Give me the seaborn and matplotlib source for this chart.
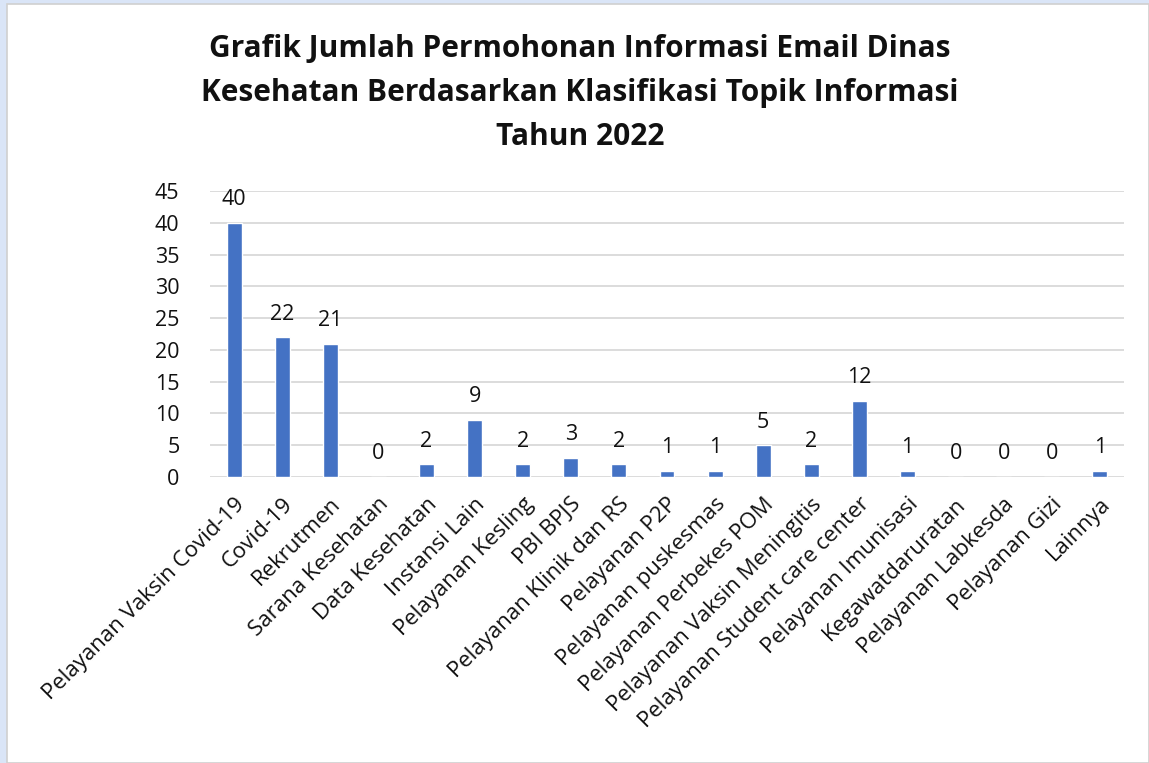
import matplotlib.pyplot as plt
import matplotlib.patches as patches
import seaborn as sns
import pandas as pd

# data
kategori = ['Pelayanan Vaksin Covid-19', 'Covid-19', 'Rekrutmen', 'Sarana Kesehatan',
            'Data Kesehatan', 'Instansi Lain', 'Pelayanan Kesling', 'PBI BPJS',
            'Pelayanan Klinik dan RS', 'Pelayanan P2P', 'Pelayanan puskesmas',
            'Pelayanan Perbekes POM', 'Pelayanan Vaksin Meningitis',
            'Pelayanan Student care center', 'Pelayanan Imunisasi', 'Kegawatdaruratan',
            'Pelayanan Labkesda', 'Pelayanan Gizi', 'Lainnya']
jumlah = [40, 22, 21, 0, 2, 9, 2, 3, 2, 1, 1, 5, 2, 12, 1, 0, 0, 0, 1]
yticks = [0, 5, 10, 15, 20, 25, 30, 35, 40, 45]
judul = ('Grafik Jumlah Permohonan Informasi Email Dinas\n'
         'Kesehatan Berdasarkan Klasifikasi Topik Informasi\n'
         'Tahun 2022')

df = pd.DataFrame({'Kategori': kategori, 'Jumlah': jumlah})

sns.set_style('white')
plt.rcParams['font.family'] = ['Open Sans', 'DejaVu Sans']

fig = plt.figure(figsize=(11.49, 7.63), dpi=100)
fig.patch.set_facecolor('#dae5f7')
# panel putih di belakang grafik
panel = patches.Rectangle((7 / 1149, 0), 1 - 7 / 1149, 1 - 4 / 763,
                          transform=fig.transFigure, facecolor='white',
                          edgecolor='#d0d0d0', linewidth=1.2, zorder=-10)
fig.add_artist(panel)

ax = fig.add_axes([210 / 1149, 1 - 477 / 763, (1124 - 210) / 1149, (477 - 191) / 763])
ax.set_zorder(1)
ax.set_facecolor('none')

sns.barplot(data=df, x='Kategori', y='Jumlah', color='#4472C4', width=0.31,
            saturation=1, ax=ax, zorder=3)
ax.bar_label(ax.containers[0], padding=9, fontsize=15.5, color='#111111')

ax.set_ylim(0, 45)
ax.set_yticks(yticks)
ax.set_xlim(-0.5, len(kategori) - 0.5)
ax.yaxis.grid(True, color='#d9d9d9', linewidth=1.3, zorder=0)
ax.set_axisbelow(True)
for s in ax.spines.values():
    s.set_visible(False)
ax.tick_params(axis='y', labelsize=15.5, length=0, pad=22, labelcolor='#111111')
ax.tick_params(axis='x', labelsize=16, length=0, pad=12, labelcolor='#111111')
plt.setp(ax.get_xticklabels(), rotation=45, ha='right', rotation_mode='anchor')
ax.set_xlabel('')
ax.set_ylabel('')

fig.text(580 / 1149, 1 - 93 / 763, judul, ha='center', va='center', fontsize=21.5,
         fontweight='bold', linespacing=1.6, color='#111111')

plt.savefig('out.png', dpi=100, facecolor=fig.get_facecolor())
